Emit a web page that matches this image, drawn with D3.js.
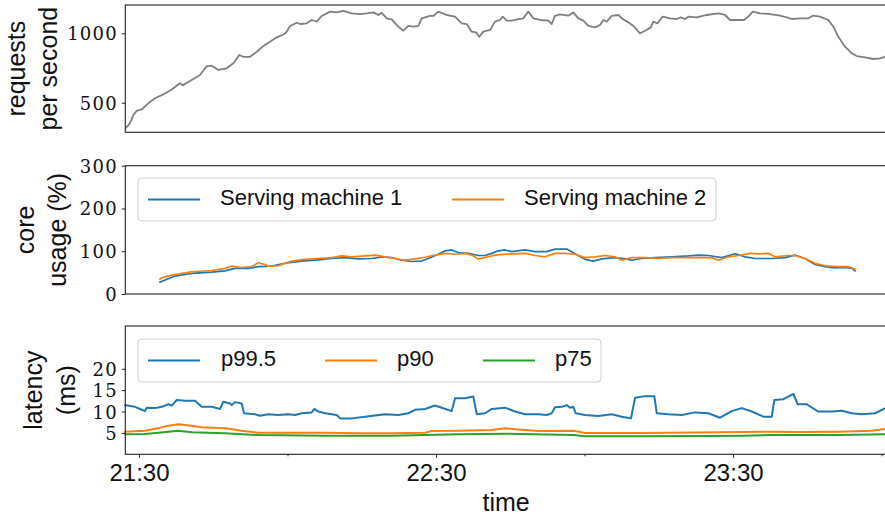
<!DOCTYPE html>
<html>
<head>
<meta charset="utf-8">
<script src="https://cdn.jsdelivr.net/npm/d3@7"></script>
<style>
  body { margin: 0; background: #fff; }
  svg { display: block; }
</style>
</head>
<body>
<svg id="chart" width="885" height="519"></svg>
<script>
// ---- Data: [minutes after 21:00, value] ----
const requestsPerSecond = [
  [27.37,320],[28.18,352],[28.85,411],[29.54,442],[30.55,452],[31.88,496],[33.23,532],[34.91,560],
  [36.61,596],[38.28,640],[38.83,625],[40.30,656],[42.32,700],[43.68,764],[44.69,767],[46.02,736],
  [47.72,748],[49.05,784],[50.26,844],[51.07,831],[52.42,831],[53.78,867],[55.11,908],[56.46,940],
  [57.82,971],[59.29,993],[59.84,1012],[60.51,1053],[61.86,1076],[62.53,1067],[63.88,1072],[64.89,1096],
  [65.90,1084],[66.91,1125],[68.59,1156],[69.94,1151],[71.27,1161],[72.97,1144],[74.65,1139],[76.00,1144],
  [77.33,1151],[78.34,1132],[79.03,1148],[80.04,1108],[81.05,1101],[82.38,1048],[83.39,1019],[84.40,1053],
  [85.41,1048],[86.42,1053],[87.11,1108],[88.79,1125],[89.45,1125],[90.46,1156],[92.15,1132],[93.84,1120],
  [95.19,1072],[96.20,1067],[97.21,1012],[98.08,1007],[98.75,975],[99.56,1012],[100.91,1024],[101.92,1084],
  [102.93,1096],[103.47,1120],[104.28,1091],[105.29,1091],[106.63,1103],[107.64,1108],[108.65,1156],[109.66,1108],
  [111.01,1096],[112.69,1091],[113.37,1067],[114.04,1125],[115.05,1137],[116.73,1127],[117.74,1151],[118.75,1108],
  [119.76,1091],[120.77,1053],[122.12,1043],[123.13,1060],[123.80,1096],[124.48,1084],[125.49,1125],[126.83,1132],
  [127.72,1103],[128.85,1079],[129.86,1053],[131.21,1000],[132.22,1019],[133.37,1043],[133.90,1084],[134.71,1072],
  [135.80,1120],[137.27,1108],[138.63,1103],[139.43,1115],[140.30,1103],[140.97,1120],[142.67,1115],[144.69,1132],
  [147.03,1144],[148.38,1132],[149.39,1096],[150.75,1096],[152.22,1096],[153.09,1120],[153.98,1156],[155.45,1144],
  [157.47,1139],[159.49,1127],[160.85,1115],[161.86,1103],[163.54,1108],[165.21,1108],[166.10,1127],[167.58,1120],
  [169.25,1096],[170.26,1048],[171.27,975],[172.63,904],[173.98,856],[174.99,836],[176.67,827],[178.34,815],
  [179.70,820],[180.71,831]
];

const machine1Usage = [
  [34.24,28],[37.27,42],[40.65,48],[44.69,51],[47.37,54],[49.39,60],[52.08,60],[54.10,64],
  [56.81,65],[59.49,72],[62.87,77],[66.22,80],[68.93,83],[71.62,85],[74.30,82],[77.01,83],
  [79.03,87],[81.05,85],[83.07,79],[85.09,76],[87.11,77],[88.44,83],[90.46,93],[91.82,101],
  [93.17,103],[94.51,97],[96.53,95],[98.55,90],[99.90,90],[101.25,95],[102.59,101],[103.94,103],
  [105.29,99],[107.98,103],[110.00,99],[112.36,99],[114.04,105],[116.40,105],[118.08,94],[120.10,81],
  [121.78,77],[123.47,82],[126.16,85],[128.18,82],[129.53,79],[131.56,83],[134.24,85],[137.62,87],
  [140.97,89],[142.99,91],[145.01,90],[147.72,85],[150.40,94],[152.42,87],[154.44,83],[157.82,83],
  [160.51,85],[162.53,91],[164.55,83],[166.57,69],[168.59,64],[170.61,61],[172.63,62],[173.98,60],
  [174.65,54]
];

const machine2Usage = [
  [34.24,35],[34.59,38],[36.61,44],[40.65,52],[44.69,55],[47.37,60],[48.69,65],[50.75,62],
  [52.77,64],[54.10,73],[55.45,69],[56.12,65],[58.14,66],[60.85,77],[63.54,81],[66.22,83],
  [68.93,85],[70.95,89],[72.97,87],[75.66,89],[77.68,91],[79.70,87],[81.72,83],[83.74,79],
  [85.76,82],[87.78,86],[89.80,91],[91.82,95],[93.84,93],[95.86,95],[97.21,91],[98.55,82],
  [100.57,87],[101.92,91],[103.94,93],[107.98,95],[110.00,90],[112.02,87],[114.04,95],[116.06,95],
  [118.08,93],[120.10,85],[122.12,87],[124.14,90],[126.16,87],[127.52,79],[129.53,85],[132.22,85],
  [134.91,83],[137.62,85],[140.30,85],[142.99,85],[145.70,85],[147.03,79],[149.05,87],[151.07,90],
  [153.43,95],[155.11,94],[157.13,95],[158.48,87],[161.17,90],[162.53,90],[164.55,83],[166.57,72],
  [168.59,66],[171.27,64],[173.29,64],[174.65,58]
];

const latencyP995 = [
  [27.23,11.5],[29.19,11.1],[30.20,10.6],[31.21,10.1],[31.56,10.9],[33.23,10.8],[34.59,11.1],[35.92,11.7],
  [36.61,11.4],[37.62,12.7],[39.29,12.5],[41.31,12.5],[42.67,11.1],[44.69,11.1],[46.36,10.6],[47.03,12.3],
  [48.38,11.9],[48.73,11.5],[49.39,12.2],[50.75,11.9],[51.21,9.6],[53.43,9.35],[54.44,9.0],[56.12,9.35],
  [58.14,9.2],[60.16,9.35],[61.52,9.2],[62.87,9.6],[64.89,9.8],[65.41,10.6],[66.22,10.0],[67.58,9.6],
  [69.94,9.2],[70.61,8.4],[72.97,8.4],[75.66,8.8],[79.70,9.35],[82.38,9.2],[84.40,9.6],[85.76,10.4],
  [87.78,10.6],[89.80,11.4],[91.15,10.9],[93.17,10.1],[93.84,13.1],[95.86,13.1],[97.53,13.5],[98.22,9.35],
  [99.90,9.6],[101.25,10.6],[103.94,10.9],[105.96,10.0],[107.98,9.35],[110.67,9.35],[112.36,9.2],[113.37,9.6],
  [114.04,11.0],[115.39,11.1],[116.40,11.5],[117.07,10.9],[117.74,11.1],[118.22,9.6],[120.10,9.2],[122.79,8.95],
  [125.49,9.35],[127.52,8.8],[129.39,8.4],[130.20,13.2],[132.22,13.6],[134.10,13.6],[134.59,9.6],[136.93,9.35],
  [139.64,9.2],[142.32,9.8],[145.01,9.6],[147.37,8.55],[149.74,10.1],[151.76,10.8],[153.78,10.0],[156.12,8.8],
  [157.82,8.8],[158.34,12.7],[160.16,12.9],[162.18,14.1],[163.07,11.7],[164.89,11.7],[167.23,10.0],[169.94,10.0],
  [171.96,10.2],[173.98,9.6],[176.00,9.35],[178.69,9.6],[180.71,10.75]
];

const latencyP90 = [
  [27.23,5.3],[31.21,5.5],[33.90,6.1],[35.92,6.7],[37.94,7.0],[40.65,6.7],[42.67,6.3],[47.37,6.1],
  [50.75,5.5],[54.10,5.05],[60.85,5.05],[67.58,5.05],[74.30,4.9],[81.05,4.9],[87.78,5.05],[89.13,5.45],
  [94.51,5.5],[101.25,5.7],[103.94,6.1],[105.96,5.85],[110.67,5.45],[117.74,5.5],[120.10,5.0],[131.00,5.0],
  [142.30,5.1],[152.00,5.2],[157.80,5.3],[163.10,5.2],[171.30,5.3],[178.00,5.5],[180.71,5.9]
];

const latencyP75 = [
  [27.23,4.7],[31.21,4.75],[33.90,5.05],[37.94,5.5],[40.65,5.15],[47.37,4.9],[54.10,4.5],[67.58,4.35],
  [81.05,4.35],[87.78,4.5],[94.51,4.7],[103.94,4.8],[117.74,4.5],[120.10,4.2],[130.00,4.2],[145.00,4.3],
  [152.00,4.35],[157.80,4.5],[171.30,4.5],[180.71,4.7]
];

// ---- Axis ticks and labels ----
const timeMajorTicks = ["21:30", "22:30", "23:30"];
const timeMinorTicks = ["22:00", "23:00", "24:00"];
const rpsTicks = [500, 1000];
const coreTicks = [0, 100, 200, 300];
const latencyTicks = [5, 10, 15, 20];
const coreLegend = ["Serving machine 1", "Serving machine 2"];
const latencyLegend = ["p99.5", "p90", "p75"];

// ---- Layout ----
const svg = d3.select("#chart");
const SANS = "'Liberation Sans', Arial, sans-serif";
const SERIF = "'DejaVu Serif', serif";
const BLUE = "#1f77b4", ORANGE = "#ff7f0e", GREEN = "#2ca02c", GRAY = "#7f7f7f";

const base = new Date(2021, 0, 1, 21, 0, 0);
const at = m => new Date(base.getTime() + m * 60000);
const clock = s => { const [h, mm] = s.split(":").map(Number); return at((h - 21) * 60 + mm); };

const plotLeft = 125.3, plotRight = 887;
const x = d3.scaleTime().domain([at(27.23), at(181.1)]).range([plotLeft, plotRight]);

const panels = {
  rps:  { top: 5,     bottom: 132.3, domain: [287, 1204], ticks: rpsTicks },
  core: { top: 165.7, bottom: 294,   domain: [0, 300],    ticks: coreTicks },
  lat:  { top: 326,   bottom: 454.3, domain: [0, 30],     ticks: latencyTicks }
};
Object.values(panels).forEach(p => {
  p.y = d3.scaleLinear().domain(p.domain).range([p.bottom, p.top]);
});

function drawYAxis(p) {
  const g = svg.append("g").attr("transform", `translate(${plotLeft},0)`)
    .call(d3.axisLeft(p.y).tickValues(p.ticks).tickSize(3.5).tickPadding(4).tickFormat(d3.format("d")));
  g.select(".domain").remove();
  g.selectAll("line").attr("stroke", "#222").attr("stroke-width", 1);
  g.selectAll("text").attr("font-family", SERIF).attr("font-size", 18).attr("fill", "#111")
    .attr("letter-spacing", 1.2).attr("dy", "0.36em");
}

function drawSeries(p, data, color, width) {
  const line = d3.line().x(d => x(at(d[0]))).y(d => p.y(d[1]));
  svg.append("path").datum(data)
    .attr("d", line).attr("fill", "none")
    .attr("stroke", color).attr("stroke-width", width)
    .attr("stroke-linejoin", "round").attr("stroke-linecap", "square");
}

function drawFrame(p) {
  svg.append("rect")
    .attr("x", plotLeft).attr("y", p.top)
    .attr("width", plotRight - plotLeft).attr("height", p.bottom - p.top)
    .attr("fill", "none").attr("stroke", "#222").attr("stroke-width", 1.1);
}

function drawYLabel(lines, baselines, centerY) {
  lines.forEach((t, i) => {
    svg.append("text")
      .attr("transform", `translate(${baselines[i]},${centerY}) rotate(-90)`)
      .attr("text-anchor", "middle")
      .attr("font-family", SANS).attr("font-size", 25).attr("fill", "#111")
      .text(t);
  });
}

function drawLegend(box, labels, colors, handleX, textX) {
  const cy = box.y + box.h / 2;
  svg.append("rect")
    .attr("x", box.x).attr("y", box.y).attr("width", box.w).attr("height", box.h)
    .attr("rx", 4).attr("fill", "#fff").attr("fill-opacity", 0.8)
    .attr("stroke", "#d0d0d0").attr("stroke-width", 1);
  labels.forEach((lab, i) => {
    svg.append("line")
      .attr("x1", handleX[i]).attr("x2", handleX[i] + 52)
      .attr("y1", cy).attr("y2", cy)
      .attr("stroke", colors[i]).attr("stroke-width", 2);
    svg.append("text")
      .attr("x", textX[i]).attr("y", cy + 5.5)
      .attr("font-family", SANS).attr("font-size", 22).attr("fill", "#111")
      .text(lab);
  });
}

// ---- Panel 1: request rate ----
drawSeries(panels.rps, requestsPerSecond, GRAY, 1.8);
drawFrame(panels.rps);
drawYAxis(panels.rps);
drawYLabel(["requests", "per second"], [25, 57], (panels.rps.top + panels.rps.bottom) / 2);

// ---- Panel 2: core usage ----
drawSeries(panels.core, machine1Usage, BLUE, 1.7);
drawSeries(panels.core, machine2Usage, ORANGE, 1.7);
drawFrame(panels.core);
drawYAxis(panels.core);
drawYLabel(["core", "usage (%)"], [34, 66], (panels.core.top + panels.core.bottom) / 2);
drawLegend({ x: 138, y: 178, w: 578, h: 43 }, coreLegend, [BLUE, ORANGE], [148, 452], [220, 524]);

// ---- Panel 3: latency ----
drawSeries(panels.lat, latencyP75, GREEN, 2);
drawSeries(panels.lat, latencyP90, ORANGE, 2);
drawSeries(panels.lat, latencyP995, BLUE, 2);
drawFrame(panels.lat);
drawYAxis(panels.lat);
drawYLabel(["latency", "(ms)"], [42, 75], (panels.lat.top + panels.lat.bottom) / 2);
drawLegend({ x: 138, y: 339, w: 463, h: 43 }, latencyLegend, [BLUE, ORANGE, GREEN], [148, 325, 483], [221, 397, 555]);

// ---- Time axis ----
const xMajor = svg.append("g").attr("transform", `translate(0,${panels.lat.bottom})`)
  .call(d3.axisBottom(x).tickValues(timeMajorTicks.map(clock)).tickSize(3.5).tickPadding(6)
    .tickFormat((d, i) => timeMajorTicks[i]));
xMajor.select(".domain").remove();
xMajor.selectAll("line").attr("stroke", "#222");
xMajor.selectAll("text").attr("font-family", SANS).attr("font-size", 24).attr("fill", "#111");

const xMinor = svg.append("g").attr("transform", `translate(0,${panels.lat.bottom})`)
  .call(d3.axisBottom(x).tickValues(timeMinorTicks.map(clock)).tickSize(2).tickFormat(""));
xMinor.select(".domain").remove();
xMinor.selectAll("line").attr("stroke", "#222");

svg.append("text")
  .attr("x", (plotLeft + plotRight) / 2).attr("y", 511)
  .attr("text-anchor", "middle")
  .attr("font-family", SANS).attr("font-size", 25).attr("fill", "#111")
  .text("time");
</script>
</body>
</html>
